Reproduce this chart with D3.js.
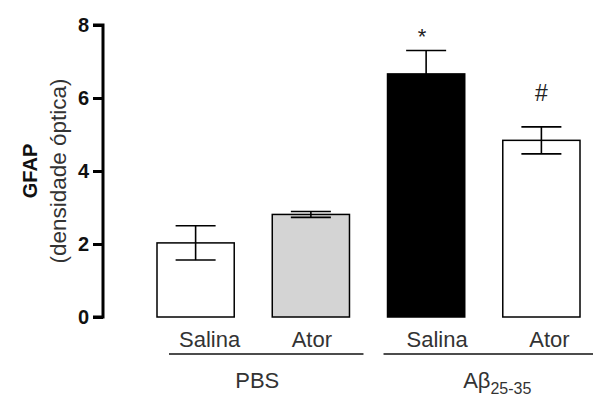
<!DOCTYPE html>
<html>
<head>
<meta charset="utf-8">
<script src="https://cdn.jsdelivr.net/npm/d3@7"></script>
<style>
  body { margin: 0; background: #fff; }
  svg { font-family: "Liberation Sans", Arial, sans-serif; }
</style>
</head>
<body>
<div id="chart"></div>
<script>
// Chart data
var categories = ["Salina", "Ator", "Salina", "Ator"];
var means = [2.03, 2.81, 6.66, 4.84];
var sems = [0.47, 0.08, 0.64, 0.37];
var fills = ["#ffffff", "#d4d4d4", "#000000", "#ffffff"];
var lowerBar = [true, true, false, true];
var marks = ["", "", "*", "#"];
var groupNames = ["PBS", "Aβ"];
var groupSubs = ["", "25-35"];
var groupFrom = [0, 2];
var groupTo = [1, 3];
var yTicks = [0, 2, 4, 6, 8];

var svgWidth = 598;
var svgHeight = 400;

var svg = d3.select("#chart")
  .append("svg")
  .attr("width", svgWidth)
  .attr("height", svgHeight);

// Scales
var x = d3.scaleBand()
  .domain(d3.range(categories.length))
  .range([157, 580])
  .paddingInner(0.33)
  .paddingOuter(0);

var y = d3.scaleLinear()
  .domain([0, 8])
  .range([317, 25]);

// Y axis
var yAxis = d3.axisLeft(y)
  .tickValues(yTicks)
  .tickSize(10)
  .tickPadding(4);

var axisG = svg.append("g")
  .attr("transform", "translate(103,0)")
  .call(yAxis);

axisG.select(".domain")
  .attr("d", "M-10," + y(8) + "H0V" + y(0) + "H-10")
  .attr("stroke", "#000")
  .attr("stroke-width", 3)
  .attr("fill", "none");

axisG.selectAll(".tick line")
  .attr("stroke", "#000")
  .attr("stroke-width", 3);

axisG.selectAll(".tick text")
  .attr("fill", "#111")
  .attr("font-size", 20)
  .attr("font-weight", "bold")
  .attr("font-family", "Liberation Sans, Arial, sans-serif");

// Y axis title
svg.append("text")
  .attr("transform", "translate(37,171) rotate(-90)")
  .attr("text-anchor", "middle")
  .attr("font-size", 20)
  .attr("font-weight", "bold")
  .attr("fill", "#111")
  .text("GFAP");

svg.append("text")
  .attr("transform", "translate(66,171) rotate(-90)")
  .attr("text-anchor", "middle")
  .attr("font-size", 22.5)
  .attr("fill", "#333")
  .text("(densidade óptica)");

// Bars
var idx = d3.range(categories.length);

svg.selectAll("rect.bar")
  .data(idx)
  .enter()
  .append("rect")
  .attr("class", "bar")
  .attr("x", i => x(i))
  .attr("y", i => y(means[i]))
  .attr("width", x.bandwidth())
  .attr("height", i => y(0) - y(means[i]))
  .attr("fill", i => fills[i])
  .attr("stroke", "#000")
  .attr("stroke-width", 1.5);

// Error bars
var capW = 40;
idx.forEach(function(i) {
  var cx = x(i) + x.bandwidth() / 2;
  var top = y(means[i] + sems[i]);
  var bot = lowerBar[i] ? y(means[i] - sems[i]) : y(means[i]);
  svg.append("line")
    .attr("x1", cx).attr("x2", cx)
    .attr("y1", top).attr("y2", bot)
    .attr("stroke", "#000").attr("stroke-width", 1.6);
  svg.append("line")
    .attr("x1", cx - capW / 2).attr("x2", cx + capW / 2)
    .attr("y1", top).attr("y2", top)
    .attr("stroke", "#000").attr("stroke-width", 1.6);
  if (lowerBar[i]) {
    svg.append("line")
      .attr("x1", cx - capW / 2).attr("x2", cx + capW / 2)
      .attr("y1", bot).attr("y2", bot)
      .attr("stroke", "#000").attr("stroke-width", 1.6);
  }
  if (marks[i]) {
    svg.append("text")
      .attr("x", cx - (marks[i] === "*" ? 4 : 0))
      .attr("y", marks[i] === "*" ? top - 7 : top - 26)
      .attr("text-anchor", "middle")
      .attr("font-size", marks[i] === "*" ? 22 : 23)
      .attr("fill", "#222")
      .text(marks[i]);
  }
});

// Category labels (slightly off-centre in the original)
var labelShift = [14, 1, 11, 8];
svg.selectAll("text.cat")
  .data(idx)
  .enter()
  .append("text")
  .attr("class", "cat")
  .attr("x", i => x(i) + x.bandwidth() / 2 + labelShift[i])
  .attr("y", 347)
  .attr("text-anchor", "middle")
  .attr("font-size", 22)
  .attr("fill", "#333")
  .text(i => categories[i]);

// Group lines and labels
var linePad = [[-12, 14], [4, 13]];
groupNames.forEach(function(name, g) {
  var x0 = x(groupFrom[g]) - linePad[g][0];
  var x1 = x(groupTo[g]) + x.bandwidth() + linePad[g][1];
  svg.append("line")
    .attr("x1", x0).attr("x2", x1)
    .attr("y1", 354).attr("y2", 354)
    .attr("stroke", "#111").attr("stroke-width", 1.5);
  var t = svg.append("text")
    .attr("x", g === 0 ? (x0 + x1) / 2 - 9 : (x0 + x1) / 2 + 9)
    .attr("y", 388)
    .attr("text-anchor", "middle")
    .attr("font-size", 22)
    .attr("fill", "#333")
    .text(name);
  if (groupSubs[g]) {
    t.append("tspan")
      .attr("dy", 6)
      .attr("font-size", 16)
      .text(groupSubs[g]);
  }
});
</script>
</body>
</html>
